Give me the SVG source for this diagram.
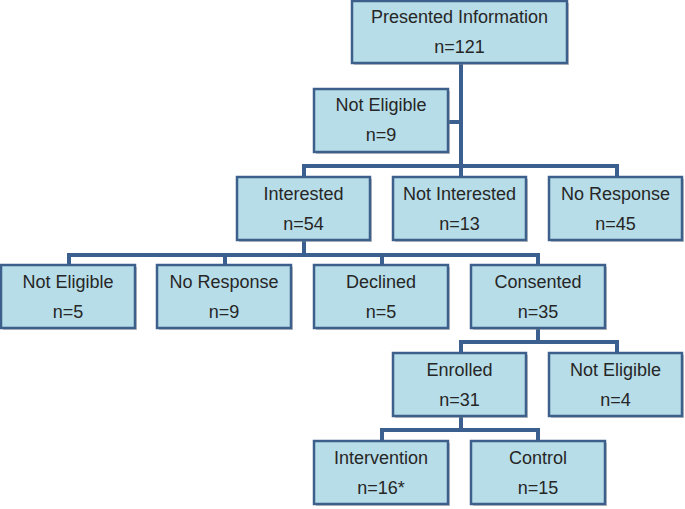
<svg xmlns="http://www.w3.org/2000/svg" width="685" height="509" viewBox="0 0 685 509">
<defs>
<style>
.box{fill:#b7dde8;stroke:#3c5f8c;stroke-width:2.5}
.sh{fill:#8a8a8a;opacity:0.5}
.t{font-family:"Liberation Sans",Arial,sans-serif;font-size:18px;fill:#262626;text-anchor:middle}
.c{stroke:#3b5f8f;stroke-width:4;fill:none;stroke-linecap:square}
</style>
</defs>
<rect width="685" height="509" fill="#ffffff"/>
<g id="connectors">
<path class="c" d="M461 63V166M448 122H461M304 166H617M304 166V177M461 166V177M617 166V177"/>
<path class="c" d="M304 241V255M69 255H538M69 255V265M225 255V265M382 255V265M538 255V265"/>
<path class="c" d="M538 328V342M461 342H617M461 342V353M617 342V353"/>
<path class="c" d="M461 416V430M382 430H538M382 430V441M538 430V441"/>
</g>
<g id="root"><rect class="sh" x="354" y="3" width="215" height="62"/><rect class="box" x="352" y="1" width="215" height="62"/><text class="t" x="459.5" y="23">Presented Information</text><text class="t" x="459.5" y="53">n=121</text></g>
<g id="not-eligible-1"><rect class="sh" x="316" y="91" width="134" height="63"/><rect class="box" x="314" y="89" width="134" height="63"/><text class="t" x="381" y="111">Not Eligible</text><text class="t" x="381" y="141">n=9</text></g>
<g id="interested"><rect class="sh" x="239" y="179" width="133" height="63"/><rect class="box" x="237" y="177" width="133" height="63"/><text class="t" x="303.5" y="200">Interested</text><text class="t" x="303.5" y="230">n=54</text></g>
<g id="not-interested"><rect class="sh" x="395" y="179" width="133" height="63"/><rect class="box" x="393" y="177" width="133" height="63"/><text class="t" x="459.5" y="200">Not Interested</text><text class="t" x="459.5" y="230">n=13</text></g>
<g id="no-response-1"><rect class="sh" x="551" y="179" width="133" height="63"/><rect class="box" x="549" y="177" width="133" height="63"/><text class="t" x="615.5" y="200">No Response</text><text class="t" x="615.5" y="230">n=45</text></g>
<g id="not-eligible-2"><rect class="sh" x="3" y="267" width="134" height="63"/><rect class="box" x="1" y="265" width="134" height="63"/><text class="t" x="68" y="288">Not Eligible</text><text class="t" x="68" y="318">n=5</text></g>
<g id="no-response-2"><rect class="sh" x="159" y="267" width="134" height="63"/><rect class="box" x="157" y="265" width="134" height="63"/><text class="t" x="224" y="288">No Response</text><text class="t" x="224" y="318">n=9</text></g>
<g id="declined"><rect class="sh" x="316" y="267" width="134" height="63"/><rect class="box" x="314" y="265" width="134" height="63"/><text class="t" x="381" y="288">Declined</text><text class="t" x="381" y="318">n=5</text></g>
<g id="consented"><rect class="sh" x="473" y="267" width="134" height="63"/><rect class="box" x="471" y="265" width="134" height="63"/><text class="t" x="538" y="288">Consented</text><text class="t" x="538" y="318">n=35</text></g>
<g id="enrolled"><rect class="sh" x="395" y="355" width="133" height="63"/><rect class="box" x="393" y="353" width="133" height="63"/><text class="t" x="459.5" y="376">Enrolled</text><text class="t" x="459.5" y="406">n=31</text></g>
<g id="not-eligible-3"><rect class="sh" x="551" y="355" width="133" height="63"/><rect class="box" x="549" y="353" width="133" height="63"/><text class="t" x="615.5" y="376">Not Eligible</text><text class="t" x="615.5" y="406">n=4</text></g>
<g id="intervention"><rect class="sh" x="316" y="443" width="134" height="63"/><rect class="box" x="314" y="441" width="134" height="63"/><text class="t" x="381" y="464">Intervention</text><text class="t" x="381" y="494">n=16*</text></g>
<g id="control"><rect class="sh" x="473" y="443" width="134" height="63"/><rect class="box" x="471" y="441" width="134" height="63"/><text class="t" x="538" y="464">Control</text><text class="t" x="538" y="494">n=15</text></g>
</svg>
